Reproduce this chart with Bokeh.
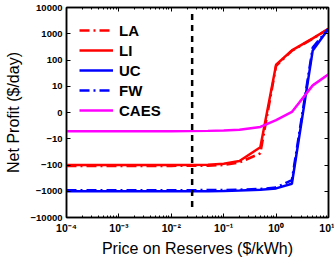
import numpy as np
from bokeh.plotting import figure
from bokeh.models import (FixedTicker, LinearAxis, LogAxis, Range1d, Legend,
                          LegendItem)
from bokeh.embed import file_html
from bokeh.resources import INLINE

# ---- data ----
price = [1e-4, 1e-3, 1e-2, 0.05, 0.1, 0.2, 0.5, 1, 2, 5, 10]   # $/kWh
LA   = [-108, -108, -108, -106, -100, -80, -36, 60, 225, 650, 1550]
LI   = [-100, -100, -100, -97, -90, -70, -21, 66, 232, 670, 1550]
UC   = [-1000, -1000, -1000, -995, -980, -940, -880, -780, -520, 232, 1550]
FW   = [-910, -910, -910, -905, -895, -870, -820, -720, -380, 300, 1550]
CAES = [-7.1, -7.1, -7.1, -7.0, -6.9, -6.6, -5.5, -2.9, 0.2, 10.8, 28.5]

vline_x = [0.025, 0.025]
vline_y = [-4000, 6000]

y_tick_values = [-10000, -1000, -100, -10, 0, 10, 100, 1000, 10000]
y_tick_labels = ["\u221210000", "\u22121000", "\u2212100", "\u221210", "0",
                 "10", "100", "1000", "10000"]
x_tick_values = [1e-4, 1e-3, 1e-2, 1e-1, 1e0, 1e1]
x_tick_labels = ["10\u207b\u2074", "10\u207b\u00b3", "10\u207b\u00b2",
                 "10\u207b\u00b9", "10\u2070", "10\u00b9"]


def symlog(v):
    """Axis transform: linear within +-10, log10 outside (as in the reference axis)."""
    v = np.asarray(v, dtype=float)
    a = np.abs(v)
    return np.where(a >= 10, np.sign(v) * np.log10(np.maximum(a, 1e-12)), v / 10.0)


FONT = "Liberation Sans"

p = figure(width=334, height=261, x_axis_type="log",
           x_range=Range1d(1e-4, 10), y_range=Range1d(-4, 4),
           output_backend="svg", toolbar_location=None,
           min_border_left=66, min_border_right=6,
           min_border_top=7, min_border_bottom=44)
p.xgrid.visible = False
p.ygrid.visible = False
p.outline_line_color = "black"
p.outline_line_width = 1.5
p.background_fill_color = "white"

DD = "10 4 2 4"
r_la = p.line(price, symlog(LA), line_color="#ff0000", line_width=2.5, line_dash=DD)
r_li = p.line(price, symlog(LI), line_color="#ff0000", line_width=2.5)
r_uc = p.line(price, symlog(UC), line_color="#0000ff", line_width=2.5)
r_fw = p.line(price, symlog(FW), line_color="#0000ff", line_width=2.5, line_dash=DD)
r_caes = p.line(price, symlog(CAES), line_color="#ff00ff", line_width=2.5)
p.line(vline_x, symlog(vline_y), line_color="black", line_width=2.5, line_dash="6 5")

# tickers
minor_x = [m * 10.0 ** e for e in range(-4, 1) for m in range(2, 10)]
xt = FixedTicker(ticks=x_tick_values, minor_ticks=minor_x)
yt = FixedTicker(ticks=[float(t) for t in symlog(y_tick_values)], minor_ticks=[])
y_over = {float(t): lab for t, lab in zip(symlog(y_tick_values), y_tick_labels)}
x_over = {v: lab for v, lab in zip(x_tick_values, x_tick_labels)}


def style_axis(ax):
    ax.axis_line_color = "black"
    ax.axis_line_width = 1.5
    ax.major_tick_in = 4
    ax.major_tick_out = 0
    ax.minor_tick_in = 2
    ax.minor_tick_out = 0
    ax.major_tick_line_color = "black"
    ax.minor_tick_line_color = "black"
    ax.major_label_text_font = FONT
    ax.major_label_text_font_style = "bold"
    ax.major_label_text_font_size = "9.5px"
    ax.major_label_text_color = "black"
    ax.axis_label_text_font = FONT
    ax.axis_label_text_font_style = "normal"
    ax.axis_label_text_font_size = "16px"
    ax.axis_label_text_color = "black"


xa = p.xaxis[0]
xa.ticker = xt
xa.major_label_overrides = x_over
style_axis(xa)
xa.major_label_text_font_size = "10.5px"
xa.major_label_standoff = 4
xa.axis_label = "Price on Reserves ($/kWh)"
xa.axis_label_standoff = 3

ya = p.yaxis[0]
ya.ticker = yt
ya.major_label_overrides = y_over
style_axis(ya)
ya.minor_tick_in = 0
ya.major_label_standoff = 4
ya.axis_label = "Net Profit ($/day)"
ya.axis_label_standoff = 6

# mirrored ticks on top and right (no labels)
top = LogAxis(ticker=xt)
style_axis(top)
top.major_label_overrides = {v: "" for v in x_tick_values}
top.major_label_text_font_size = "1px"
top.major_label_standoff = 0
p.add_layout(top, "above")
right = LinearAxis(ticker=yt)
style_axis(right)
right.minor_tick_in = 0
right.major_label_overrides = {k: "" for k in y_over}
right.major_label_text_font_size = "1px"
right.major_label_standoff = 0
p.add_layout(right, "right")

legend = Legend(items=[LegendItem(label="LA", renderers=[r_la]),
                       LegendItem(label="LI", renderers=[r_li]),
                       LegendItem(label="UC", renderers=[r_uc]),
                       LegendItem(label="FW", renderers=[r_fw]),
                       LegendItem(label="CAES", renderers=[r_caes])],
                location=(13, 97), orientation="vertical")
legend.glyph_width = 34
legend.glyph_height = 20
legend.label_height = 20
legend.spacing = 0
legend.padding = 0
legend.margin = 0
legend.label_standoff = 6
legend.label_text_font = FONT
legend.label_text_font_style = "bold"
legend.label_text_font_size = "15px"
legend.label_text_color = "black"
legend.border_line_alpha = 0
legend.background_fill_alpha = 0
p.add_layout(legend, "center")

open("out.html", "w").write(file_html(p, INLINE))
